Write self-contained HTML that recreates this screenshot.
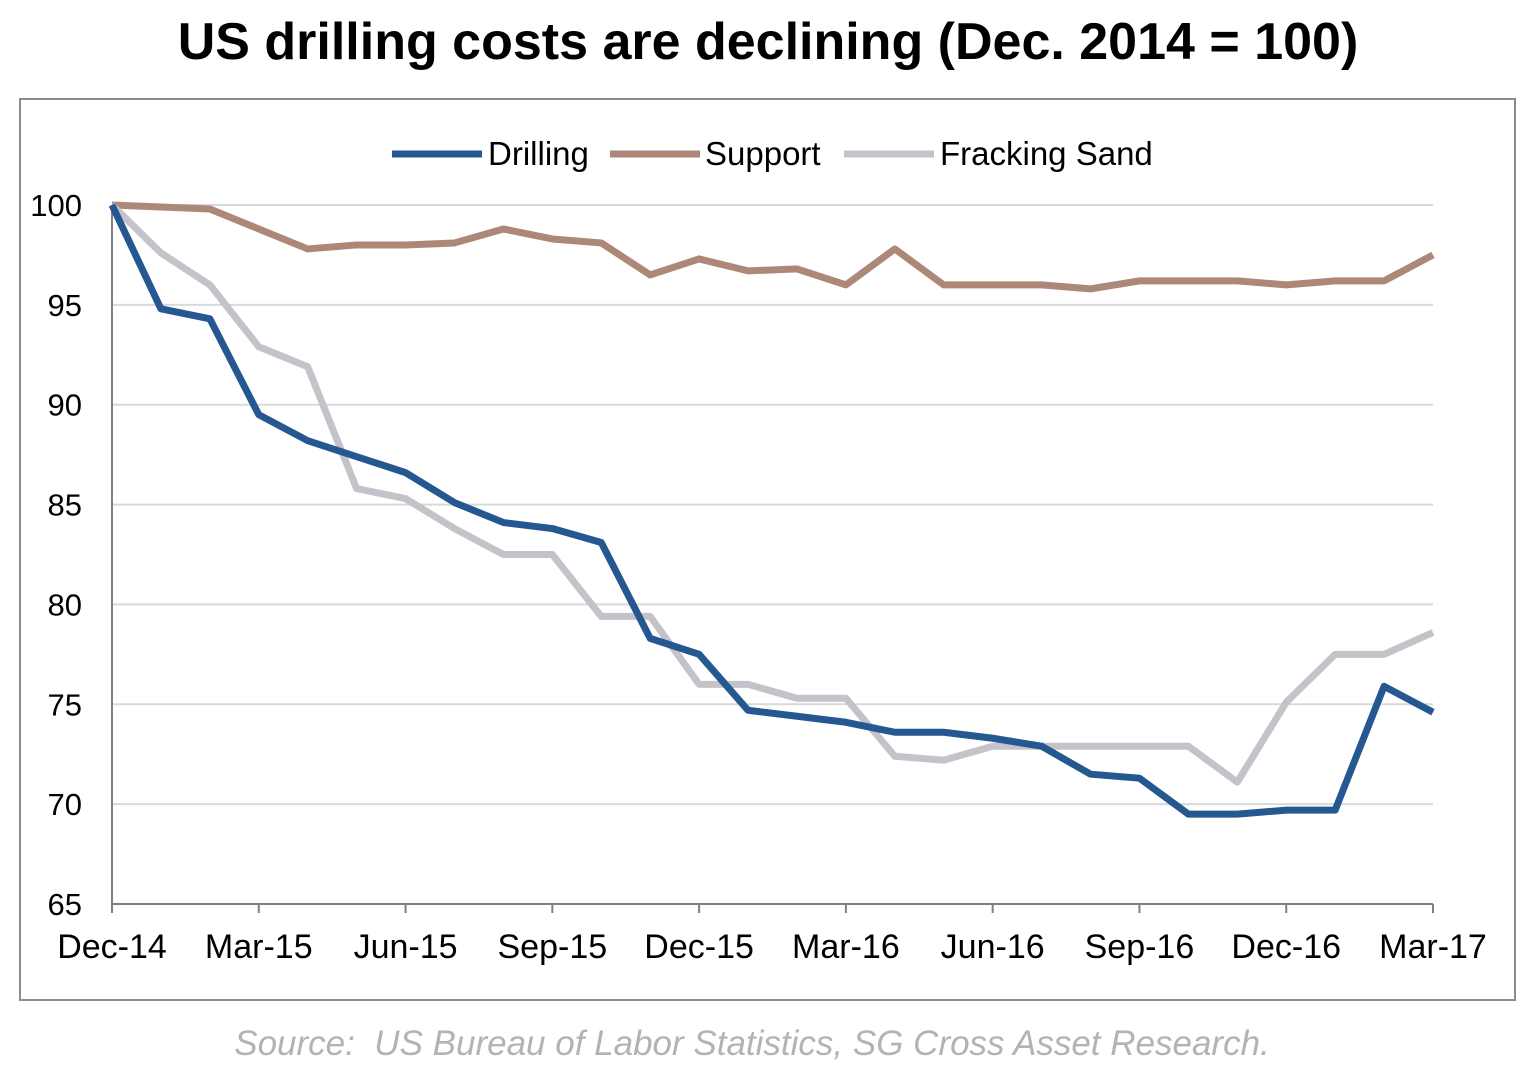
<!DOCTYPE html>
<html><head><meta charset="utf-8"><style>
body{margin:0;background:#fff;width:1536px;height:1072px;overflow:hidden;font-family:"Liberation Sans",Arial,sans-serif}
</style></head><body>
<svg width="1536" height="1072" xmlns="http://www.w3.org/2000/svg">
<text x="768" y="59" text-anchor="middle" font-size="52" font-weight="bold" fill="#000">US drilling costs are declining (Dec. 2014 = 100)</text>
<rect x="20" y="99" width="1495" height="901" fill="none" stroke="#8c8c8c" stroke-width="2"/>
<g id="grid"></g><g id="axes"></g><g id="series"></g>
<g>
<line x1="392" y1="154" x2="482" y2="154" stroke="#255891" stroke-width="7"/>
<text x="488" y="165" font-size="33">Drilling</text>
<line x1="610" y1="154" x2="700" y2="154" stroke="#ad8878" stroke-width="7"/>
<text x="705" y="165" font-size="33">Support</text>
<line x1="844" y1="154" x2="934" y2="154" stroke="#c3c3c9" stroke-width="7"/>
<text x="940" y="165" font-size="33">Fracking Sand</text>
</g>
<text x="752" y="1055" text-anchor="middle" font-size="35" font-style="italic" fill="#b3b3b3">Source:&#160; US Bureau of Labor Statistics, SG Cross Asset Research.</text>
</svg>
<script>
const xLabels=["Dec-14","Mar-15","Jun-15","Sep-15","Dec-15","Mar-16","Jun-16","Sep-16","Dec-16","Mar-17"];
const yTicks=[65,70,75,80,85,90,95,100];
const drilling=[100,94.8,94.3,89.5,88.2,87.4,86.6,85.1,84.1,83.8,83.1,78.3,77.5,74.7,74.4,74.1,73.6,73.6,73.3,72.9,71.5,71.3,69.5,69.5,69.7,69.7,75.9,74.6];
const support=[100,99.9,99.8,98.8,97.8,98.0,98.0,98.1,98.8,98.3,98.1,96.5,97.3,96.7,96.8,96.0,97.8,96.0,96.0,96.0,95.8,96.2,96.2,96.2,96.0,96.2,96.2,97.5];
const fracking=[100,97.6,96.0,92.9,91.9,85.8,85.3,83.8,82.5,82.5,79.4,79.4,76.0,76.0,75.3,75.3,72.4,72.2,72.9,72.9,72.9,72.9,72.9,71.1,75.1,77.5,77.5,78.6];
const NS="http://www.w3.org/2000/svg";
const x0=112,x1=1433,y0=904,y1=205;
const xs=i=>x0+(x1-x0)*i/27;
const ys=v=>y0-(v-65)/35*(y0-y1);
function mk(t,a,p){const e=document.createElementNS(NS,t);for(const k in a)e.setAttribute(k,a[k]);p.appendChild(e);return e;}
const grid=document.getElementById('grid'),axes=document.getElementById('axes'),ser=document.getElementById('series');
yTicks.forEach(v=>{
 if(v>65){const g=mk('line',{x1:x0,x2:x1,y1:ys(v),y2:ys(v),stroke:'#d9d9d9','stroke-width':2},grid);
 
 }
 const t=mk('text',{x:82,y:ys(v)+11,'text-anchor':'end','font-size':31},axes);t.textContent=v;
 
 
});
const ya=mk('line',{x1:x0,x2:x0,y1:y1,y2:y0,stroke:'#808080','stroke-width':2},axes);


const xa=mk('line',{x1:x0,x2:x1,y1:y0,y2:y0,stroke:'#808080','stroke-width':2},axes);


xLabels.forEach((l,k)=>{const x=xs(k*3);
 mk('line',{x1:x,x2:x,y1:y0,y2:y0+9,stroke:'#808080','stroke-width':2},axes);
 const t=mk('text',{x:x,y:958,'text-anchor':'middle','font-size':34},axes);t.textContent=l;
 
 
});
function line(d,c,n){const p=mk('polyline',{points:d.map((v,i)=>xs(i)+','+ys(v)).join(' '),fill:'none',stroke:c,'stroke-width':7,'stroke-linejoin':'round'},ser);
 
 }
line(support,'#ad8878','series-support');
line(fracking,'#c3c3c9','series-fracking-sand');
line(drilling,'#255891','series-drilling');
</script>
</body></html>
